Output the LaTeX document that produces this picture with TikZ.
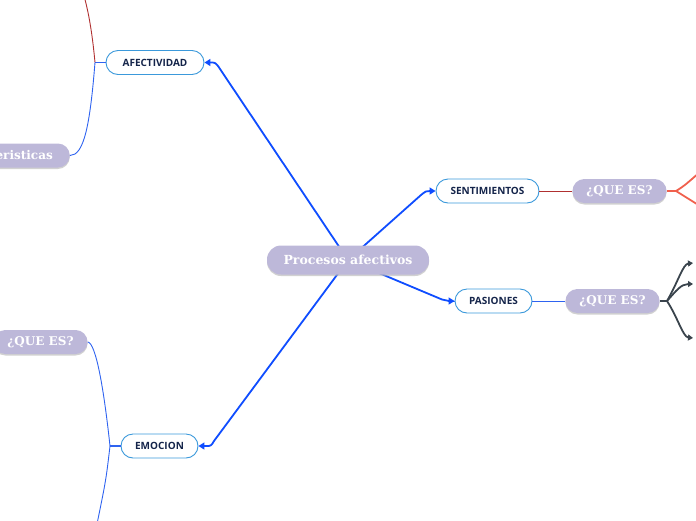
\documentclass[tikz,border=0pt]{standalone}
\usepackage{fontspec}
\setmainfont{Open Sans}
\newfontfamily\slabfont{DejaVu Serif}
\usetikzlibrary{arrows.meta,shadows}
\definecolor{lav}{HTML}{BDB8D9}
\definecolor{nodeb}{HTML}{3B99DB}
\definecolor{navy}{HTML}{14244A}
\definecolor{mainblue}{HTML}{0F4DFF}
\definecolor{thinblue}{HTML}{2E63F0}
\definecolor{darkred}{HTML}{B03030}
\definecolor{salmon}{HTML}{F0604D}
\definecolor{slate}{HTML}{3A444D}
\pgfdeclarelayer{bg}
\pgfsetlayers{bg,main}
\tikzset{
  mainnode/.style={rounded corners=14pt, fill=lav, text=white,
    font=\slabfont\bfseries\fontsize{12.5}{15}\selectfont,
    minimum height=29pt, minimum width=162pt, inner xsep=14pt,
    drop shadow={shadow xshift=0pt, shadow yshift=-1.5pt, fill=black!30, opacity=0.6}},
  topic/.style={draw=nodeb, line width=0.9pt, fill=white, rounded corners=12pt,
    minimum height=24pt, text=navy, font=\bfseries\fontsize{10}{12}\selectfont},
  qnode/.style={rounded corners=12pt, fill=lav, text=white,
    font=\slabfont\bfseries\fontsize{12}{14}\selectfont,
    minimum height=24pt, inner xsep=14pt,
    drop shadow={shadow xshift=0pt, shadow yshift=-1.5pt, fill=black!30, opacity=0.6}},
  mainline/.style={mainblue, line width=1.8pt},
  tipL/.style={-{Triangle[length=6pt,width=7pt]}},
  thin/.style={line width=0.9pt},
  grayline/.style={slate, line width=1.8pt},
  graytip/.style={-{Triangle[length=5pt,width=6pt]}}
}
\begin{document}
\begin{tikzpicture}[x=1pt,y=-1pt]
\useasboundingbox (0,0) rectangle (696,520);
\clip (0,0) rectangle (696,520);

\node[mainnode] (c) at (348,260) {Procesos afectivos};
\node[topic, minimum width=98pt] (a) at (155,62.5) {AFECTIVIDAD};
\node[topic, minimum width=103pt] (s) at (487.5,191) {SENTIMIENTOS};
\node[topic, minimum width=77pt] (p) at (493.5,301) {PASIONES};
\node[topic, minimum width=77pt] (e) at (159.5,446) {EMOCION};
\node[qnode, minimum width=87pt] (qs) at (619.5,191) {¿QUE ES?};
\node[qnode, minimum width=87pt] (qp) at (612.5,301) {¿QUE ES?};
\node[qnode, minimum width=87pt] (qe) at (40.5,342) {¿QUE ES?};
\node[qnode, anchor=east, inner xsep=17pt] (car) at (70,155.5) {Caracteristicas};

\coordinate (ja) at (95,62.5);
\coordinate (aup) at (84,-4);
\coordinate (je) at (110,446);
\coordinate (edown) at (97,524);
\coordinate (jqs) at (676,191);
\coordinate (qs1) at (700,172);
\coordinate (qs2) at (700,206);
\coordinate (jqp) at (667,301);
\coordinate (qp1) at (693,263);
\coordinate (qp2) at (693,284);
\coordinate (qp3) at (693,338);

\begin{pgfonlayer}{bg}
\draw[mainline, tipL] (c.center) -- (218,66) .. controls (215,62.5) .. (210,62.5) -- (a.east);
\draw[mainline, tipL] (c.center) -- (421,195) .. controls (426,191) .. (430,191) -- (s.west);
\draw[mainline, tipL] (c.center) -- (442,299.5) .. controls (446,301) .. (449,301) -- (p.west);
\draw[mainline, tipL] (c.center) -- (214,441) .. controls (211,446) .. (206,446) -- (e.east);
\end{pgfonlayer}

% AFECTIVIDAD branches
\draw[thinblue, line width=1.5pt] (a.west) -- (ja);
\draw[darkred, thin] (ja) .. controls (92,30) and (88,10) .. (aup);
\draw[thinblue, thin] (ja) .. controls (90,125) and (84,155.5) .. (car.east);

% EMOCION branches
\draw[thinblue, line width=1.5pt] (e.west) -- (je);
\draw[thinblue, thin] (qe.east) .. controls (96,343) and (104,390) .. (je);
\draw[thinblue, thin] (je) .. controls (106,480) .. (edown);

% SENTIMIENTOS
\draw[darkred, thin] (s.east) -- (qs.west);
\draw[salmon, line width=1.8pt] (qs.east) -- (jqs);
\draw[salmon, line width=1.8pt] (jqs) .. controls (684,186) .. (qs1);
\draw[salmon, line width=1.8pt] (jqs) .. controls (684,196) .. (qs2);

% PASIONES
\draw[thinblue, thin] (p.east) -- (qp.west);
\draw[grayline] (qp.east) -- (jqp);
\draw[grayline, graytip] (jqp) .. controls (678,282) and (683,264) .. (qp1);
\draw[grayline, graytip] (jqp) .. controls (676,291) and (681,284) .. (qp2);
\draw[grayline, graytip] (jqp) .. controls (678,318) and (683,337) .. (qp3);
\end{tikzpicture}
\end{document}
